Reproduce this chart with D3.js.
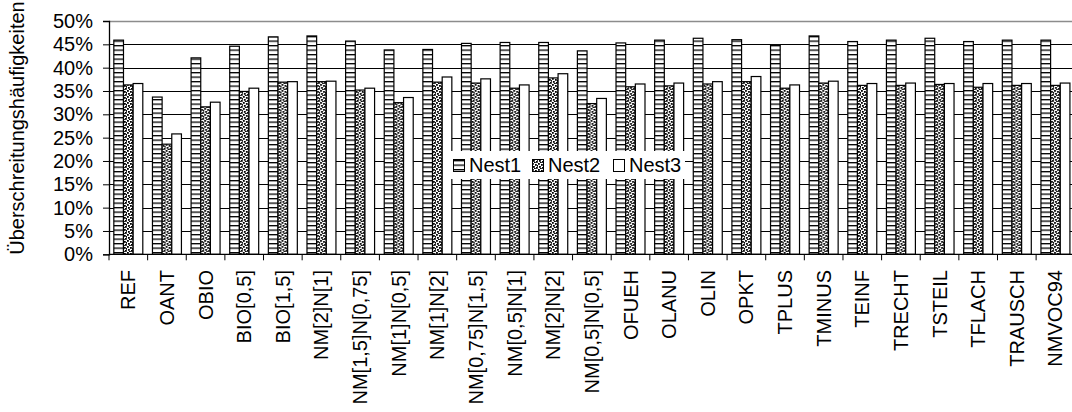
<!DOCTYPE html>
<html>
<head>
<meta charset="utf-8">
<script src="https://cdn.jsdelivr.net/npm/d3@7/dist/d3.min.js"></script>
<style>
  html, body { margin: 0; padding: 0; background: #fff; }
  svg { display: block; }
  text { font-family: "Liberation Sans", Arial, sans-serif; fill: #000; }
</style>
</head>
<body>
<svg id="chart" width="1072" height="412"></svg>
<script>
// Szenarien (Kategorien der x-Achse)
const categories = [
  "REF", "OANT", "OBIO", "BIO[0,5]", "BIO[1,5]", "NM[2]N[1]", "NM[1,5]N[0,75]",
  "NM[1]N[0,5]", "NM[1]N[2]", "NM[0,75]N[1,5]", "NM[0,5]N[1]", "NM[2]N[2]",
  "NM[0,5]N[0,5]", "OFUEH", "OLANU", "OLIN", "OPKT", "TPLUS", "TMINUS", "TEINF",
  "TRECHT", "TSTEIL", "TFLACH", "TRAUSCH", "NMVOC94"
];

// Überschreitungshäufigkeiten in Prozent je Nest
const nest1 = [45.9, 33.7, 42.1, 44.6, 46.6, 46.8, 45.7, 43.8, 43.9, 45.2, 45.4, 45.4, 43.6,
               45.3, 45.9, 46.3, 46.0, 44.9, 46.8, 45.6, 45.9, 46.3, 45.6, 45.9, 45.9];
const nest2 = [36.3, 23.6, 31.6, 34.9, 36.9, 37.0, 35.2, 32.5, 36.9, 36.7, 35.6, 37.8, 32.3,
               35.9, 36.1, 36.5, 37.0, 35.6, 36.7, 36.2, 36.2, 36.4, 35.8, 36.2, 36.2];
const nest3 = [36.6, 25.8, 32.6, 35.6, 37.0, 37.1, 35.6, 33.6, 38.0, 37.6, 36.3, 38.7, 33.4,
               36.5, 36.7, 37.0, 38.1, 36.3, 37.1, 36.6, 36.7, 36.6, 36.6, 36.6, 36.7];

const seriesNames = ["Nest1", "Nest2", "Nest3"];
const seriesValues = [nest1, nest2, nest3];

// y-Achse: 0 % bis 50 % in 5-%-Schritten
const yTicks = [0, 5, 10, 15, 20, 25, 30, 35, 40, 45, 50];
const yTitle = "Überschreitungshäufigkeiten";

const svg = d3.select("#chart");
const FONT = 20;

const plot = { left: 109, right: 1074.75, top: 21, bottom: 254.3 };

const x = d3.scaleBand().domain(categories).range([plot.left, plot.right]).paddingInner(0).paddingOuter(0);
const xInner = d3.scaleBand().domain(seriesNames).range([0, x.bandwidth()]).paddingInner(0).paddingOuter(0.5);
const y = d3.scaleLinear().domain([0, 50]).range([plot.bottom, plot.top]);

// Füllmuster
const defs = svg.append("defs");
const hstripe = defs.append("pattern")
  .attr("id", "pat-nest1").attr("patternUnits", "userSpaceOnUse")
  .attr("width", 8).attr("height", 4.5);
hstripe.append("rect").attr("width", 8).attr("height", 4.5).attr("fill", "#fff");
hstripe.append("rect").attr("y", 0).attr("width", 8).attr("height", 1.3).attr("fill", "#000");

const dots = defs.append("pattern")
  .attr("id", "pat-nest2").attr("patternUnits", "userSpaceOnUse")
  .attr("width", 6).attr("height", 6);
dots.append("rect").attr("width", 6).attr("height", 6).attr("fill", "#fff");
[[0, 0], [3, 1], [1, 3], [4, 4], [2, 5], [5, 2]].forEach(([px, py]) => {
  dots.append("rect").attr("x", px).attr("y", py).attr("width", 1.8).attr("height", 1.8).attr("fill", "#000");
});

const fills = { Nest1: "url(#pat-nest1)", Nest2: "url(#pat-nest2)", Nest3: "#fff" };

// Gitternetzlinien
svg.append("g").selectAll("line")
  .data(yTicks.filter(t => t < 50))
  .join("line")
  .attr("x1", plot.left).attr("x2", plot.right)
  .attr("y1", d => Math.round(y(d)) + 0.5).attr("y2", d => Math.round(y(d)) + 0.5)
  .attr("stroke", "#000").attr("stroke-width", 1);

// oberer Rahmen der Zeichnungsfläche
svg.append("line")
  .attr("x1", plot.left).attr("x2", plot.right)
  .attr("y1", Math.round(y(50)) + 0.5).attr("y2", Math.round(y(50)) + 0.5)
  .attr("stroke", "#8c8c8c").attr("stroke-width", 1.3);

// Balken
const rows = categories.map((c, i) => ({ cat: c, vals: seriesNames.map((s, k) => ({ s, v: seriesValues[k][i] })) }));
const groups = svg.append("g").selectAll("g")
  .data(rows).join("g")
  .attr("transform", d => `translate(${x(d.cat)},0)`);
groups.selectAll("rect")
  .data(d => d.vals).join("rect")
  .attr("x", d => xInner(d.s))
  .attr("width", xInner.bandwidth())
  .attr("y", d => y(d.v))
  .attr("height", d => y(0) - y(d.v))
  .attr("fill", d => fills[d.s])
  .attr("stroke", "#000").attr("stroke-width", 1.2);

// y-Achse
const yAxis = d3.axisLeft(y).tickValues(yTicks).tickSize(6).tickPadding(10)
  .tickFormat(d => d + "%");
const gy = svg.append("g").attr("transform", `translate(${plot.left},0)`).call(yAxis);
gy.select(".domain").attr("stroke", "#000").attr("stroke-width", 1.3);
gy.selectAll(".tick line").attr("stroke", "#000");
gy.selectAll(".tick text").attr("font-size", FONT).attr("font-family", "Liberation Sans, Arial, sans-serif");

// x-Achse mit Teilstrichen zwischen den Kategorien
const gx = svg.append("g");
gx.append("line")
  .attr("x1", plot.left).attr("x2", plot.right)
  .attr("y1", y(0)).attr("y2", y(0))
  .attr("stroke", "#000").attr("stroke-width", 1.3);
gx.selectAll("line.tk")
  .data(d3.range(categories.length + 1))
  .join("line").attr("class", "tk")
  .attr("x1", i => plot.left + i * x.step()).attr("x2", i => plot.left + i * x.step())
  .attr("y1", y(0)).attr("y2", y(0) + 6)
  .attr("stroke", "#000").attr("stroke-width", 1);
gx.selectAll("text")
  .data(categories).join("text")
  .attr("transform", d => `translate(${x(d) + x.bandwidth() / 2},270) rotate(-90)`)
  .attr("text-anchor", "end")
  .attr("dy", "0.35em")
  .attr("font-size", FONT)
  .text(d => d);

// Achsentitel
svg.append("text")
  .attr("transform", "translate(24,128) rotate(-90)")
  .attr("text-anchor", "middle")
  .attr("font-size", FONT)
  .text(yTitle);

// Legende
const legend = svg.append("g").attr("transform", "translate(450,151)");
legend.append("rect").attr("width", 235).attr("height", 28).attr("fill", "#fff");
const legX = [3, 82, 163];
seriesNames.forEach((s, k) => {
  const g = legend.append("g").attr("transform", `translate(${legX[k]},0)`);
  g.append("rect").attr("x", 0.5).attr("y", 8.5).attr("width", 11).attr("height", 12)
    .attr("fill", fills[s]).attr("stroke", "#000").attr("stroke-width", 1);
  g.append("text").attr("x", 16).attr("y", 14).attr("dy", "0.35em")
    .attr("font-size", FONT).text(s);
});
</script>
</body>
</html>
